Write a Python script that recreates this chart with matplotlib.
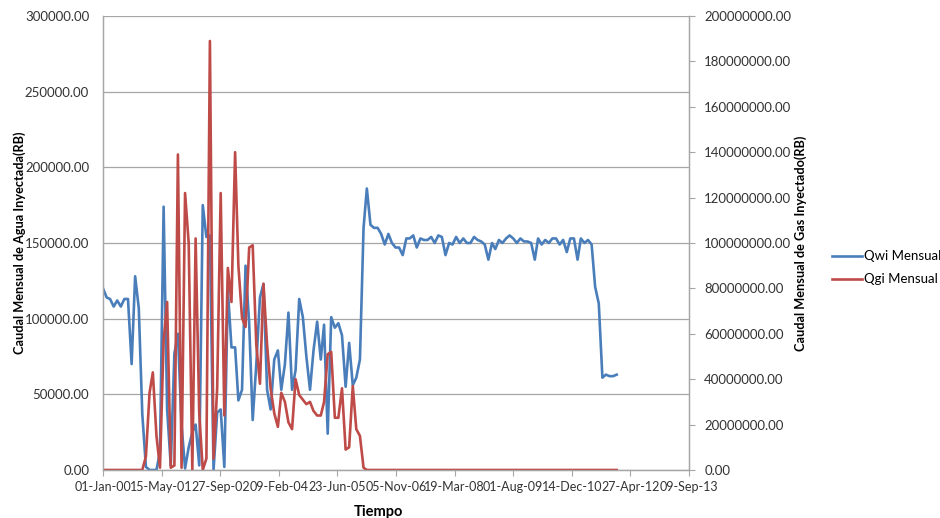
import matplotlib

matplotlib.use("Agg")
import matplotlib.dates as mdates
import matplotlib.pyplot as plt
import numpy as np
import pandas as pd
from matplotlib.ticker import FormatStrFormatter, MultipleLocator

plt.rcParams["font.family"] = ["Lato", "DejaVu Sans"]

# monthly injection
months = pd.date_range("2000-01-01", periods=145, freq="MS")

qwi_mensual = [
    120000, 114000, 113000, 108000, 112000, 108000, 113000, 113000,
    70000, 128000, 107000, 37000, 2000, 0, 0, 0, 12000,
    174000, 40000, 3000, 77000, 90000, 30000, 1000, 15000, 25000, 30000, 3000,
    175000, 154000, 155000, 0,
    38000, 40000, 2000,
    119000, 81000, 81000, 46000, 53000, 135000, 97000, 33000, 70000, 114000,
    123000, 53000, 40000, 73000, 79000, 53000, 70000, 104000, 53000, 66000,
    113000, 101000, 75000, 53000, 79000, 98000, 73000, 96000, 24000, 101000,
    94000, 97000, 89000, 55000, 84000, 56000, 61000, 73000,
    160000, 186000, 162000, 160000, 160000, 156000, 149000, 156000, 150000, 147000,
    147000, 142000, 153000, 153000, 155000, 147000, 153000, 152000, 152000, 154000,
    150000, 155000, 154000, 142000, 150000, 149000, 154000, 150000, 153000, 150000,
    150000, 154000, 152000, 151000, 149000, 139000,
    150000, 146000, 152000, 150000, 153000, 155000, 153000, 150000, 153000, 151000,
    151000, 150000, 139000, 153000, 149000, 152000, 150000, 153000, 153000, 149000,
    152000, 144000, 153000, 153000, 139000, 153000, 150000, 152000, 149000, 121000,
    110000, 61000, 63000, 62000, 62000, 63000,
]

# gas, millions of RB
qgi_mensual_mm = [
    0, 0, 0, 0, 0, 0, 0, 0, 0, 0, 0, 0,
    6, 34, 43, 15, 1, 57, 74, 1, 2, 139, 1, 122, 100, 0, 102, 25, 0, 5,
    189, 5, 36, 122, 24, 89, 74, 140, 90, 67, 63, 98, 99, 55, 38, 82, 55,
    36, 25, 19, 34, 30, 21, 18, 40, 33, 31, 29, 30, 26, 24, 24, 30, 51, 52,
    23, 23, 36, 9, 10, 37, 18, 15, 1,
] + [0] * 71

x_ticks = pd.date_range("2000-01-01", periods=11, freq="500D")

blue = "#4a7ebb"
red = "#be4b48"
grey = "#a6a6a6"
text_col = "#333333"

fig = plt.figure(figsize=(9.4, 5.18), dpi=100)
ax = fig.add_axes([0.1096, 0.0927, 0.6234, 0.8764])
ax2 = ax.twinx()

ax.plot(months, qwi_mensual, color=blue, lw=1.9, label="Qwi Mensual")
ax2.plot(months, np.array(qgi_mensual_mm) * 1e6, color=red, lw=1.9, label="Qgi Mensual")

ax.set_ylim(0, 300000)
ax.yaxis.set_major_locator(MultipleLocator(50000))
ax.yaxis.set_major_formatter(FormatStrFormatter("%.2f"))
ax2.set_ylim(0, 200000000)
ax2.yaxis.set_major_locator(MultipleLocator(20000000))
ax2.yaxis.set_major_formatter(FormatStrFormatter("%.2f"))

ax.set_xlim(x_ticks[0], x_ticks[-1])
ax.set_xticks(x_ticks)
ax.xaxis.set_major_formatter(mdates.DateFormatter("%d-%b-%y"))

ax.grid(axis="y", color=grey, lw=0.9)
ax.set_axisbelow(True)

for a in (ax, ax2):
    a.spines["top"].set_visible(False)
    for side in ("left", "bottom", "right"):
        a.spines[side].set_color(grey)
        a.spines[side].set_linewidth(0.9)
    a.tick_params(colors=grey, labelcolor=text_col, labelsize=9.5, length=4, width=0.8)
ax.tick_params(axis="y", length=0, pad=10)
ax.tick_params(axis="x", pad=4, labelsize=9)
ax2.tick_params(axis="y", pad=7)

ax.set_ylabel("Caudal Mensual de Agua Inyectada(RB)", fontsize=9.2, fontweight="bold")
ax.yaxis.set_label_coords(-0.132, 0.5)
ax2.set_ylabel("Caudal Mensual de Gas Inyectado(RB)", fontsize=9.2, fontweight="bold")
ax2.yaxis.set_label_coords(1.18, 0.5)
ax.set_xlabel("Tiempo", fontsize=10.5, fontweight="bold")
ax.xaxis.set_label_coords(0.47, -0.078)

handles = ax.get_lines() + ax2.get_lines()
fig.legend(handles, [h.get_label() for h in handles], loc="center left",
           bbox_to_anchor=(0.872, 0.483), frameon=False, fontsize=9.5,
           handlelength=2.3, handletextpad=0.15, labelspacing=0.85)

fig.savefig("out.png", dpi=100)
